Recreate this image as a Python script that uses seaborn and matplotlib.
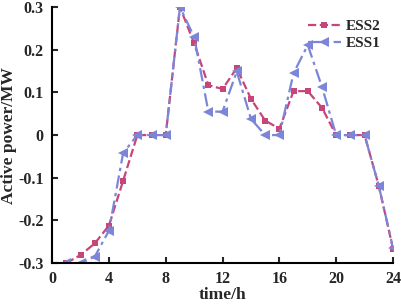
import numpy as np
import pandas as pd
import matplotlib
matplotlib.use('Agg')
import matplotlib.pyplot as plt
import seaborn as sns

# ---------- dados ----------
horas = list(range(1, 25))
ess2 = [-0.300, -0.281, -0.254, -0.212, -0.107, 0.0, 0.0, 0.0, 0.300, 0.215,
        0.117, 0.108, 0.157, 0.085, 0.034, 0.015, 0.103, 0.103, 0.064, 0.0,
        0.0, 0.0, -0.119, -0.266]
ess1 = [-0.300, -0.300, -0.285, -0.224, -0.042, 0.0, 0.0, 0.0, 0.300, 0.230,
        0.055, 0.055, 0.149, 0.038, 0.0, 0.0, 0.145, 0.211, 0.113, 0.0,
        0.0, 0.0, -0.119, -0.264]
xticks = [0, 4, 8, 12, 16, 20, 24]
yticks = [-0.3, -0.2, -0.1, 0, 0.1, 0.2, 0.3]
ytick_labels = ['-0.3', '-0.2', '-0.1', '0', '0.1', '0.2', '0.3']

df = pd.DataFrame({'t': horas, 'ESS2': ess2, 'ESS1': ess1})

sns.set_theme(style='ticks')
plt.rcParams['font.family'] = ['Liberation Serif', 'DejaVu Serif']
plt.rcParams['font.weight'] = 'bold'

fig = plt.figure(figsize=(4.01, 3.07), dpi=100)
ax = fig.add_axes([0.13, 0.143, 0.85, 0.834])

sns.lineplot(data=df, x='t', y='ESS2', ax=ax, color='#C8457A', linestyle='--',
             marker='s', markersize=5, markeredgewidth=0, linewidth=1.6, label='ESS2')
sns.lineplot(data=df, x='t', y='ESS1', ax=ax, color='#7B86D8', linestyle=(0, (6, 2, 1.5, 2)),
             marker='<', markersize=7.5, markeredgewidth=0, linewidth=1.6, label='ESS1')

ax.set_xlim(0, 24)
ax.set_ylim(-0.3, 0.3)
ax.set_xticks(xticks)
ax.set_yticks(yticks)
ax.set_yticklabels(ytick_labels)
ax.tick_params(direction='in', length=4, width=1.5, labelsize=11.5, pad=6)
for lab in ax.get_xticklabels() + ax.get_yticklabels():
    lab.set_fontweight('bold')
for s in ['left', 'bottom']:
    ax.spines[s].set_linewidth(1.5)
    ax.spines[s].set_color('black')
sns.despine(ax=ax)
ax.set_xlabel('time/h', fontsize=12.5, fontweight='bold')
ax.set_ylabel('Active power/MW', fontsize=12.5, fontweight='bold')
ax.xaxis.set_label_coords(0.5, -0.095)
ax.yaxis.set_label_coords(-0.103, 0.5)

leg = ax.legend(loc='upper right', frameon=False, handlelength=2.2,
                handletextpad=0.3, labelspacing=0.25, borderaxespad=0.4,
                prop={'weight': 'bold', 'size': 11})

fig.savefig('out.png', dpi=100)
